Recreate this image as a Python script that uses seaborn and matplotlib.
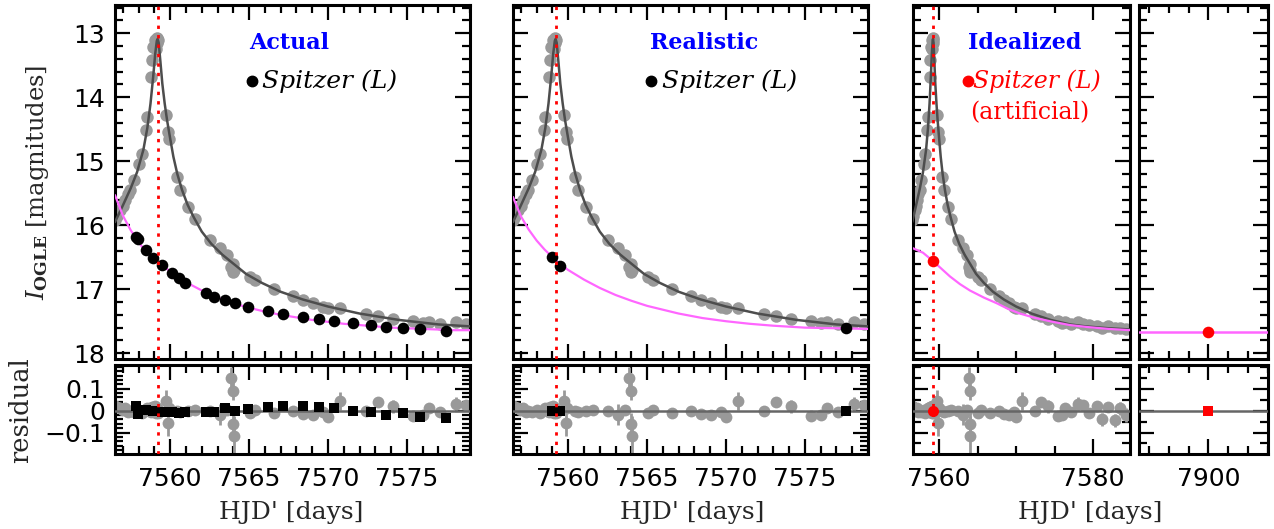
import matplotlib
matplotlib.use('Agg')
import matplotlib.pyplot as plt
from matplotlib.ticker import MultipleLocator, NullFormatter
import numpy as np
import seaborn as sns

sns.set_theme(style='ticks')
plt.rcParams['font.family'] = ['DejaVu Sans']
plt.rcParams['mathtext.fontset'] = 'dejavuserif'

# OGLE data: time, magnitude, error, residual, residual error
ogle_t = [7556.5, 7556.65, 7556.82, 7557.0, 7557.13, 7557.3, 7557.45, 7557.7, 7558.05, 7558.19,
          7558.46, 7558.55, 7558.76, 7558.82, 7558.93, 7559.03, 7559.08, 7559.14, 7559.18, 7559.24,
          7559.73, 7559.87, 7559.94, 7560.4, 7560.6, 7561.14, 7561.56, 7562.5, 7563.15, 7563.57,
          7563.88, 7563.95, 7564.0, 7564.05, 7565.05, 7565.4, 7566.6, 7567.8, 7568.4, 7569.05,
          7569.7, 7570.0, 7570.74, 7572.4, 7573.17, 7574.1, 7575.4, 7576.0, 7576.4, 7577.07,
          7578.1, 7578.75, 7579.5, 7580.5, 7581.2, 7582.0, 7582.8, 7583.5, 7584.3]
ogle_mag = [15.92, 15.85, 15.77, 15.70, 15.61, 15.52, 15.45, 15.30, 15.05, 14.88,
            14.52, 14.31, 13.68, 13.42, 13.21, 13.11, 13.25, 13.08, 13.15, 13.11,
            14.28, 14.55, 14.65, 15.25, 15.45, 15.71, 15.90, 16.23, 16.36, 16.47,
            16.65, 16.60, 16.73, 16.70, 16.81, 16.86, 17.00, 17.11, 17.17, 17.22,
            17.27, 17.30, 17.29, 17.38, 17.42, 17.46, 17.49, 17.52, 17.51, 17.55,
            17.51, 17.55, 17.56, 17.58, 17.60, 17.58, 17.61, 17.60, 17.62]
ogle_err = [0.02, 0.02, 0.02, 0.02, 0.02, 0.02, 0.02, 0.02, 0.02, 0.02,
            0.02, 0.02, 0.02, 0.02, 0.02, 0.02, 0.03, 0.02, 0.03, 0.02,
            0.03, 0.06, 0.05, 0.02, 0.02, 0.02, 0.02, 0.02, 0.03, 0.06,
            0.06, 0.05, 0.04, 0.04, 0.02, 0.02, 0.02, 0.02, 0.02, 0.02,
            0.02, 0.02, 0.04, 0.02, 0.02, 0.03, 0.02, 0.02, 0.02, 0.02,
            0.03, 0.02, 0.02, 0.03, 0.02, 0.02, 0.03, 0.02, 0.03]
ogle_res = [0.02, 0.015, 0.01, 0.005, 0.01, -0.005, 0.0, -0.005, 0.005, -0.01,
            0.005, 0.01, -0.005, 0.015, 0.01, 0.02, -0.01, 0.005, 0.012, -0.01,
            0.045, -0.055, 0.01, 0.0, -0.005, 0.0, 0.005, 0.0, -0.018, 0.005,
            0.15, 0.09, -0.06, -0.115, -0.01, 0.005, -0.01, 0.0, -0.015, -0.02,
            -0.005, -0.03, 0.045, 0.0, 0.038, 0.02, -0.025, -0.02, 0.01, -0.005,
            0.03, 0.025, -0.01, 0.02, -0.04, 0.015, -0.045, 0.01, -0.02]
ogle_res_err = [0.01, 0.01, 0.01, 0.01, 0.01, 0.01, 0.01, 0.01, 0.01, 0.01,
                0.01, 0.01, 0.01, 0.015, 0.01, 0.01, 0.015, 0.01, 0.015, 0.01,
                0.05, 0.06, 0.02, 0.01, 0.01, 0.01, 0.01, 0.01, 0.048, 0.02,
                0.05, 0.04, 0.05, 0.09, 0.01, 0.01, 0.015, 0.01, 0.02, 0.02,
                0.02, 0.02, 0.04, 0.01, 0.02, 0.03, 0.02, 0.02, 0.015, 0.015,
                0.03, 0.02, 0.02, 0.02, 0.03, 0.02, 0.03, 0.03, 0.03]

# ground-based model curve
model_t = [7556.5, 7557.0, 7557.5, 7557.9, 7558.3, 7558.55, 7558.75, 7558.92, 7559.05, 7559.15,
           7559.2, 7559.27, 7559.38, 7559.5, 7559.65, 7559.8, 7560.0, 7560.2, 7560.45, 7560.75,
           7561.1, 7561.5, 7562.0, 7562.6, 7563.3, 7564.0, 7564.8, 7565.8, 7567.0, 7568.4,
           7570.0, 7572.0, 7574.5, 7577.0, 7579.0, 7582.0, 7585.0]
model_mag = [15.95, 15.69, 15.42, 15.17, 14.82, 14.48, 14.10, 13.68, 13.32, 13.12,
             13.09, 13.15, 13.45, 13.79, 14.10, 14.36, 14.65, 14.93, 15.20, 15.45,
             15.68, 15.88, 16.10, 16.29, 16.46, 16.60, 16.76, 16.90, 17.04, 17.16,
             17.27, 17.38, 17.48, 17.55, 17.58, 17.61, 17.63]

# Spitzer data, "Actual"
spz1_t = [7557.85, 7557.95, 7558.46, 7558.9, 7559.5, 7560.1, 7560.57, 7560.95, 7562.25, 7562.8,
          7563.5, 7564.1, 7564.9, 7566.2, 7567.15, 7568.4, 7569.4, 7570.4, 7571.6, 7572.7,
          7573.65, 7574.75, 7575.85, 7577.5]
spz1_mag = [16.19, 16.21, 16.38, 16.51, 16.62, 16.74, 16.82, 16.90, 17.06, 17.12,
            17.17, 17.22, 17.27, 17.34, 17.38, 17.43, 17.47, 17.50, 17.53, 17.56,
            17.59, 17.60, 17.62, 17.65]
spz1_res = [0.02, -0.015, 0.003, 0.0, -0.005, -0.008, -0.01, -0.008, -0.008, -0.008,
            0.012, 0.0, 0.008, 0.018, 0.023, 0.023, 0.018, 0.012, 0.0, -0.008,
            -0.02, -0.01, -0.027, -0.035]
spz1_model_t = [7556.5, 7557.0, 7557.5, 7558.0, 7558.5, 7559.0, 7559.5, 7560.0, 7561.0, 7562.0,
                7563.0, 7564.0, 7565.0, 7566.0, 7567.0, 7568.0, 7569.0, 7570.0, 7571.0, 7572.0,
                7573.0, 7574.0, 7575.0, 7576.0, 7577.0, 7578.0, 7579.0]
spz1_model_mag = [15.53, 15.85, 16.08, 16.27, 16.42, 16.54, 16.63, 16.72, 16.89, 17.02,
                  17.13, 17.22, 17.29, 17.35, 17.40, 17.44, 17.48, 17.51, 17.54, 17.56,
                  17.58, 17.60, 17.61, 17.62, 17.63, 17.64, 17.64]

# Spitzer data, "Realistic"
spz2_t = [7559.0, 7559.5, 7577.6]
spz2_mag = [16.50, 16.63, 17.61]
spz2_res = [0.0, 0.0, 0.0]
spz2_model_t = [7556.5, 7557.0, 7557.5, 7558.0, 7558.5, 7559.0, 7559.5, 7560.0, 7561.0, 7562.0,
                7563.0, 7564.0, 7565.0, 7566.0, 7567.0, 7568.5, 7570.0, 7571.5, 7573.0, 7575.0,
                7577.0, 7579.0]
spz2_model_mag = [15.56, 15.86, 16.07, 16.24, 16.38, 16.50, 16.61, 16.70, 16.85, 16.98,
                  17.09, 17.18, 17.26, 17.32, 17.38, 17.45, 17.50, 17.54, 17.57, 17.60,
                  17.61, 17.62]

# Spitzer data, "Idealized" (artificial)
spz3_t = [7559.2, 7900.0]
spz3_mag = [16.56, 17.67]
spz3_res = [0.0, 0.0]
spz3_model_t = [7556.6, 7557.9, 7559.2, 7560.3, 7561.4, 7562.7, 7564.0, 7565.8, 7567.5, 7569.0,
                7570.5, 7572.5, 7574.8, 7577.0, 7579.2, 7582.0, 7584.8]
spz3_model_mag = [16.36, 16.43, 16.56, 16.68, 16.80, 16.92, 17.02, 17.13, 17.22, 17.31,
                  17.38, 17.45, 17.51, 17.56, 17.59, 17.62, 17.64]
spz3_late_t = [7893.0, 7906.0]
spz3_late_mag = [17.67, 17.67]

t_peak = 7559.2

GRAY = '#999999'
DARK = '#4d4d4d'
MAG = '#ff66ff'

W, H = 1274, 529
def box(l, t, r, b):
    return [l / W, 1 - b / H, (r - l) / W, (b - t) / H]

fig = plt.figure(figsize=(W / 100, H / 100), dpi=100)

cols = [(115, 470, (7556.5, 7579.0)), (513, 868, (7556.5, 7579.0)),
        (913, 1130, (7556.6, 7584.8)), (1139, 1268, (7893.0, 7906.0))]

axes = []
for i, (l, r, xl) in enumerate(cols):
    ax = fig.add_axes(box(l, 5, r, 359))
    axr = fig.add_axes(box(l, 365, r, 454))
    for a in (ax, axr):
        a.set_xlim(xl)
        for s in a.spines.values():
            s.set_linewidth(2.2)
            s.set_color('black')
        a.tick_params(which='both', direction='in', top=True, right=True, width=1.6,
                      colors='black', labelsize=18)
        a.tick_params(which='major', length=11)
        a.tick_params(which='minor', length=6)
        if i < 2:
            a.xaxis.set_major_locator(MultipleLocator(5))
            a.xaxis.set_minor_locator(MultipleLocator(1))
        elif i == 2:
            a.xaxis.set_major_locator(MultipleLocator(20))
            a.xaxis.set_minor_locator(MultipleLocator(5))
        else:
            a.xaxis.set_major_locator(MultipleLocator(10))
            a.xaxis.set_minor_locator(MultipleLocator(2))
    ax.set_ylim(18.09, 12.56)
    ax.yaxis.set_major_locator(MultipleLocator(1))
    ax.yaxis.set_minor_locator(MultipleLocator(0.2))
    axr.set_ylim(-0.198, 0.208)
    axr.set_yticks([-0.1, 0, 0.1])
    axr.yaxis.set_minor_locator(MultipleLocator(0.02 if i < 2 else 0.05))
    ax.xaxis.set_major_formatter(NullFormatter())
    if i == 0:
        axr.set_yticklabels(['\u22120.1', '0', '0.1'])
    else:
        ax.yaxis.set_major_formatter(NullFormatter())
        axr.yaxis.set_major_formatter(NullFormatter())
    axr.tick_params(axis='x', pad=9)
    ax.tick_params(axis='y', pad=7)
    axr.tick_params(axis='y', pad=7)
    axes.append((ax, axr))

# OGLE data and model on panels 1-3
for i in range(3):
    ax, axr = axes[i]
    ax.errorbar(ogle_t, ogle_mag, yerr=ogle_err, fmt='o', color=GRAY, ms=9, mew=0,
                elinewidth=2, capsize=3.5, capthick=2, zorder=2)
    sns.lineplot(x=model_t, y=model_mag, ax=ax, color=DARK, lw=1.8, sort=False,
                 estimator=None, zorder=3)
    axr.errorbar(ogle_t, ogle_res, yerr=ogle_res_err, fmt='o', color=GRAY, ms=8.5, mew=0,
                 elinewidth=2, capsize=3.5, capthick=2, zorder=2)
    for a in (ax, axr):
        a.axvline(t_peak, color='red', ls=(0, (1.2, 2.2)), lw=2, zorder=5)

for i in range(4):
    axes[i][1].axhline(0, color='#666666', lw=1.8, zorder=3)

# Spitzer: Actual
ax, axr = axes[0]
sns.lineplot(x=spz1_model_t, y=spz1_model_mag, ax=ax, color=MAG, lw=1.6, sort=False,
             estimator=None, zorder=3)
sns.scatterplot(x=spz1_t, y=spz1_mag, ax=ax, color='black', s=70, linewidth=0, zorder=4)
axr.errorbar(spz1_t, spz1_res, yerr=0.008, fmt='s', color='black', ms=7, mew=0,
             elinewidth=1.5, capsize=2, zorder=4)

# Spitzer: Realistic
ax, axr = axes[1]
sns.lineplot(x=spz2_model_t, y=spz2_model_mag, ax=ax, color=MAG, lw=1.6, sort=False,
             estimator=None, zorder=3)
sns.scatterplot(x=spz2_t, y=spz2_mag, ax=ax, color='black', s=70, linewidth=0, zorder=4)
axr.errorbar(spz2_t, spz2_res, yerr=0.008, fmt='s', color='black', ms=7, mew=0,
             elinewidth=1.5, capsize=2, zorder=4)

# Spitzer: Idealized
ax, axr = axes[2]
sns.lineplot(x=spz3_model_t, y=spz3_model_mag, ax=ax, color=MAG, lw=1.6, sort=False,
             estimator=None, zorder=3)
sns.scatterplot(x=spz3_t[:1], y=spz3_mag[:1], ax=ax, color='red', s=70, linewidth=0, zorder=6)
axr.errorbar(spz3_t[:1], spz3_res[:1], yerr=0.008, fmt='o', color='red', ms=8, mew=0,
             elinewidth=1.5, capsize=2, zorder=6)
ax, axr = axes[3]
sns.lineplot(x=spz3_late_t, y=spz3_late_mag, ax=ax, color=MAG, lw=1.8, sort=False,
             estimator=None, zorder=3)
sns.scatterplot(x=spz3_t[1:], y=spz3_mag[1:], ax=ax, color='red', s=70, linewidth=0, zorder=4)
axr.errorbar(spz3_t[1:], spz3_res[1:], yerr=0.008, fmt='s', color='red', ms=7, mew=0,
             elinewidth=1.5, capsize=2, zorder=4)

# panel annotations
serif = ['DejaVu Serif']
for (ax, _), title, tx, dx, sx in [(axes[0], 'Actual', 0.49, 0.386, 0.415),
                                    (axes[1], 'Realistic', 0.538, 0.388, 0.42)]:
    ax.text(tx, 0.893, title, transform=ax.transAxes, ha='center', va='center',
            color='blue', fontsize=16, fontweight='bold', family=serif)
    ax.plot([dx], [0.785], 'o', color='black', ms=7.5, transform=ax.transAxes)
    ax.text(sx, 0.785, 'Spitzer (L)', transform=ax.transAxes, ha='left', va='center',
            color='black', fontsize=18, style='italic', family=serif)

ax = axes[2][0]
ax.text(0.516, 0.893, 'Idealized', transform=ax.transAxes, ha='center', va='center',
        color='blue', fontsize=16, fontweight='bold', family=serif)
ax.plot([0.253], [0.785], 'o', color='red', ms=7.5, transform=ax.transAxes)
ax.text(0.275, 0.785, 'Spitzer (L)', transform=ax.transAxes, ha='left', va='center',
        color='red', fontsize=17, style='italic', family=serif)
ax.text(0.262, 0.695, '(artificial)', transform=ax.transAxes, ha='left', va='center',
        color='red', fontsize=17, family=serif)

# axis labels
fig.text(38 / W, 1 - 182 / H, r'$I_{\mathbf{OGLE}}$ [magnitudes]', rotation=90,
         ha='center', va='center', fontsize=17.5, family=serif)
fig.text(21 / W, 1 - 410 / H, 'residual', rotation=90, ha='center', va='center',
         fontsize=18.5, family=serif)
for xc in (291, 692, 1090):
    fig.text(xc / W, 1 - 512 / H, "HJD' [days]", ha='center', va='center',
             fontsize=18, family=serif)

fig.savefig('out.png', dpi=100)
